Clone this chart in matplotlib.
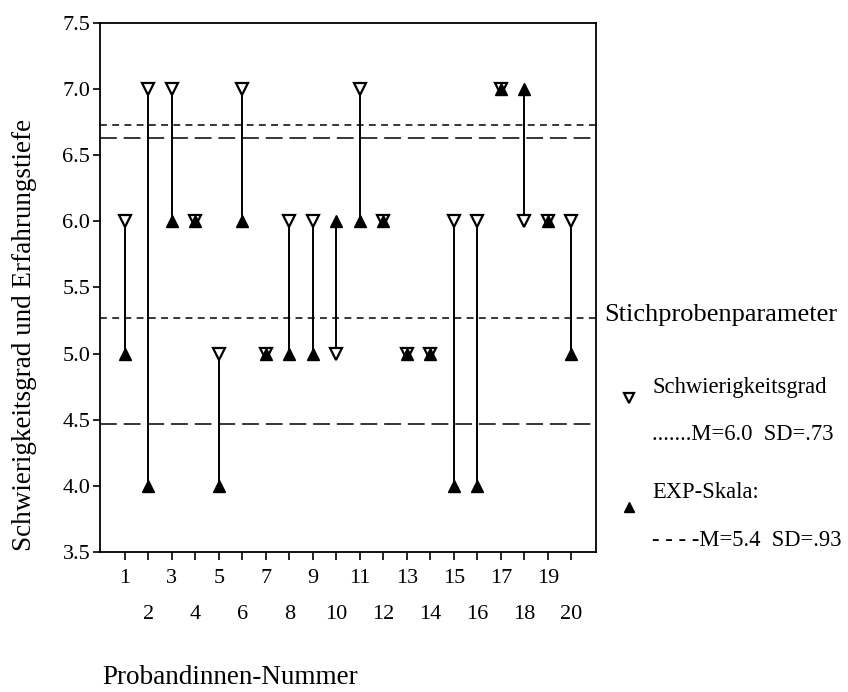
import matplotlib
matplotlib.use("Agg")
import matplotlib.pyplot as plt
from matplotlib.ticker import MultipleLocator, FixedLocator

plt.rcParams['font.family'] = ['Liberation Serif', 'DejaVu Serif']

# Daten: Schwierigkeitsgrad und EXP-Skala je Probandin
subjects = list(range(1, 21))
schwierig = [6, 7, 7, 6, 5, 7, 5, 6, 6, 5, 7, 6, 5, 5, 6, 6, 7, 6, 6, 6]
exp_skala = [5, 4, 6, 6, 4, 6, 5, 5, 5, 6, 6, 6, 5, 5, 4, 4, 7, 7, 6, 5]

# Stichprobenparameter (Linien M +/- SD, wie im Original gezeichnet)
schwierig_band = [5.27, 6.73]
exp_band = [4.47, 6.63]

fig = plt.figure(figsize=(8.48, 6.92), dpi=100)
ax = fig.add_axes([0.118, 0.2023, 0.585, 0.7645])

# Verbindungslinien
ax.vlines(subjects, schwierig, exp_skala, color='black', lw=1.4, zorder=2)

for y in schwierig_band:
    ax.axhline(y, color='black', lw=1.1, dashes=(4.5, 3.5), zorder=1)
for y in exp_band:
    ax.axhline(y, color='black', lw=1.1, dashes=(11, 4.5), zorder=1)

ax.plot(subjects, schwierig, ls='none', marker='v', ms=8, mfc='white',
        mec='black', mew=1.6, zorder=3)
ax.plot(subjects, exp_skala, ls='none', marker='^', ms=8, mfc='black',
        mec='black', zorder=4)

ax.set_xlim(-0.05, 21.05)
ax.set_ylim(3.5, 7.5)

ax.yaxis.set_major_locator(MultipleLocator(0.5))
ax.yaxis.set_major_formatter(plt.FormatStrFormatter('%.1f'))
ax.tick_params(axis='y', direction='out', length=5, width=1.2, labelsize=16, pad=2)

odd = [s for s in subjects if s % 2 == 1]
even = [s for s in subjects if s % 2 == 0]
ax.xaxis.set_major_locator(FixedLocator(odd))
ax.xaxis.set_minor_locator(FixedLocator(even))
ax.set_xticklabels([str(s) for s in odd])
ax.xaxis.set_minor_formatter(plt.FixedFormatter([str(s) for s in even]))
ax.tick_params(axis='x', which='major', direction='out', length=6, width=1.2,
               labelsize=16, pad=6)
ax.tick_params(axis='x', which='minor', direction='out', length=6, width=1.2,
               labelsize=16, pad=32)

for sp in ax.spines.values():
    sp.set_linewidth(1.3)

fig.text(25 / 848, 1 - 335 / 692, 'Schwierigkeitsgrad und Erfahrungstiefe',
         rotation=90, ha='center', va='center', fontsize=19.5)
fig.text(102 / 848, 1 - 678 / 692, 'Probandinnen-Nummer', ha='left',
         va='center', fontsize=19.5)

# Legende rechts
fig.text(604 / 848, 1 - 315 / 692, 'Stichprobenparameter', ha='left',
         va='center', fontsize=19)
fig.lines.append(plt.Line2D([629 / 848], [1 - 398 / 692], marker='v', ms=7,
                            mfc='white', mec='black', mew=1.6, ls='none',
                            transform=fig.transFigure))
fig.text(652 / 848, 1 - 387 / 692, 'Schwierigkeitsgrad', ha='left',
         va='center', fontsize=16.3)
fig.text(652 / 848, 1 - 434 / 692, '.......M=6.0  SD=.73', ha='left',
         va='center', fontsize=16.3)
fig.lines.append(plt.Line2D([629 / 848], [1 - 507 / 692], marker='^', ms=7,
                            mfc='black', mec='black', ls='none',
                            transform=fig.transFigure))
fig.text(652 / 848, 1 - 493 / 692, 'EXP-Skala:', ha='left', va='center',
         fontsize=16.3)
fig.text(652 / 848, 1 - 540 / 692, '- - - -M=5.4  SD=.93', ha='left',
         va='center', fontsize=16.3)

fig.savefig('out.png', dpi=100)
